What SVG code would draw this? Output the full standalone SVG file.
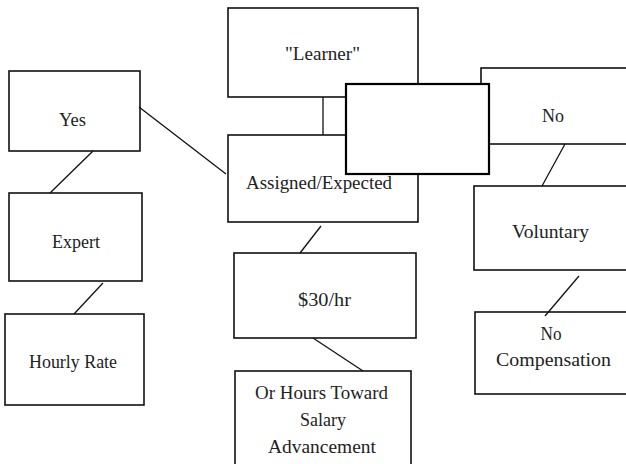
<svg xmlns="http://www.w3.org/2000/svg" width="626" height="464" viewBox="0 0 626 464">
<style>
.box{fill:#fff;stroke:#111;stroke-width:1.6}
.cover{fill:#fff;stroke:#000;stroke-width:2.2}
.ln{stroke:#111;stroke-width:1.3;fill:none}
text{font-family:"Liberation Serif","Times New Roman",serif;font-size:18.5px;fill:#222;text-anchor:middle}
</style>
<rect width="626" height="464" fill="#fff"/>
<g id="node-learner"><rect class="box" x="228" y="8" width="190" height="89"/><text x="322.5" y="60" textLength="75" lengthAdjust="spacingAndGlyphs">"Learner"</text></g>
<g id="node-yes"><rect class="box" x="9" y="71" width="131" height="80"/><text x="72.5" y="126" textLength="27" lengthAdjust="spacingAndGlyphs">Yes</text></g>
<g id="node-assigned"><rect class="box" x="228" y="135" width="190" height="87"/><text x="319" y="189" textLength="146" lengthAdjust="spacingAndGlyphs">Assigned/Expected</text></g>
<g id="node-no"><rect class="box" x="481" y="68" width="160" height="76"/><text x="553" y="122" textLength="22" lengthAdjust="spacingAndGlyphs">No</text></g>
<g id="node-expert"><rect class="box" x="9" y="193" width="133" height="88"/><text x="76" y="248" textLength="48" lengthAdjust="spacingAndGlyphs">Expert</text></g>
<g id="node-voluntary"><rect class="box" x="474" y="186" width="167" height="84"/><text x="550.5" y="238" textLength="77" lengthAdjust="spacingAndGlyphs">Voluntary</text></g>
<g id="node-rate30"><rect class="box" x="234" y="253" width="182" height="85"/><text x="324.5" y="306" textLength="53" lengthAdjust="spacingAndGlyphs">$30/hr</text></g>
<g id="node-hourly"><rect class="box" x="5" y="314" width="139" height="91"/><text x="73" y="368" textLength="88" lengthAdjust="spacingAndGlyphs">Hourly Rate</text></g>
<g id="node-nocomp"><rect class="box" x="475" y="312" width="166" height="82"/><text x="551" y="340" textLength="21" lengthAdjust="spacingAndGlyphs">No</text><text x="553.5" y="366" textLength="115" lengthAdjust="spacingAndGlyphs">Compensation</text></g>
<g id="node-orhours"><rect class="box" x="235" y="371" width="176" height="110"/><text x="321.5" y="399" textLength="133" lengthAdjust="spacingAndGlyphs">Or Hours Toward</text><text x="323" y="426" textLength="46" lengthAdjust="spacingAndGlyphs">Salary</text><text x="322" y="453" textLength="108" lengthAdjust="spacingAndGlyphs">Advancement</text></g>
<g id="connectors">
<line class="ln" x1="139" y1="107" x2="226" y2="174"/>
<line class="ln" x1="93" y1="151" x2="50" y2="193"/>
<line class="ln" x1="103" y1="283" x2="74" y2="314"/>
<line class="ln" x1="323" y1="97" x2="323" y2="135"/>
<line class="ln" x1="321" y1="226" x2="300" y2="253"/>
<line class="ln" x1="313" y1="338" x2="363" y2="371"/>
<line class="ln" x1="565" y1="144" x2="542" y2="186"/>
<line class="ln" x1="579" y1="276" x2="545" y2="316"/>
</g>
<g id="node-blank"><rect class="cover" x="346" y="84" width="143" height="90"/></g>
</svg>
